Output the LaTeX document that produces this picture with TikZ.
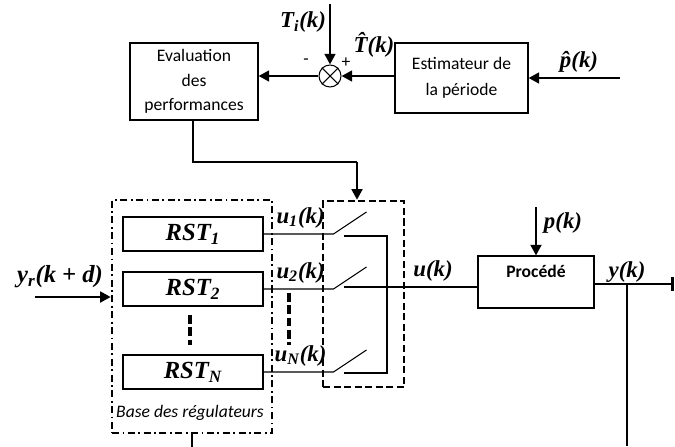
\documentclass[tikz,border=0pt]{standalone}
\usepackage{fontspec}
\setmainfont{Carlito}
\newfontfamily\lblfont{Liberation Serif}
\usetikzlibrary{arrows.meta}
\newcommand{\sig}[1]{{\lblfont\bfseries\itshape #1}}

\begin{document}
\begin{tikzpicture}[x=0.02cm,y=-0.02cm,
  blockbox/.style={draw,line width=0.6pt,minimum width=#1,inner sep=2pt,align=center,font=\fontsize{10}{14}\selectfont},
  blockbox/.default=2.8cm,
  sigarrow/.style={line width=1.6pt,-{Triangle[length=6pt,width=6pt]}},
  siglabel/.style={inner sep=1pt,font=\fontsize{13}{13}\selectfont},
  vdots/.style={line width=1.8pt,dash pattern=on 5pt off 2pt}]
  \useasboundingbox (0,0) rectangle (675,446);

  % upper loop
  \node[blockbox=2.56cm,minimum height=1.54cm] (eval) at (194,81.5) {Evaluation\\des\\performances};
  \node[blockbox=2.66cm,minimum height=1.4cm,font=\fontsize{10}{15}\selectfont] (estim) at (461.5,78) {Estimateur de\\la période};
  \node[draw,circle,line width=0.6pt,minimum size=0.44cm,inner sep=0pt] (sum) at (330,76) {};
  \draw[line width=0.6pt] (sum.north west) -- (sum.south east) (sum.north east) -- (sum.south west);
  \node (minus) at (306,62) {-};
  \node (plus) at (346,63) {+};
  \coordinate (ti) at (330,4);
  \draw[sigarrow] (ti) -- (sum.north);
  \node[siglabel] (tilbl) at (303,22) {\sig{T\textsubscript{i}(k)}};
  \draw[sigarrow] (sum.west) -- (eval.east |- sum.west);
  \draw[sigarrow] (estim.west |- sum.east) -- (sum.east);
  \node[siglabel] (thatlbl) at (374,45) {\sig{\^{T}(k)}};
  \coordinate (pin) at (620,78);
  \draw[sigarrow] (pin) -- (estim.east |- pin);
  \node[siglabel] (phatlbl) at (579,62) {\sig{\^{p}(k)}};

  % regulator bank
  \node[draw,line width=1.4pt,dash pattern=on 4pt off 2pt on 1pt off 2pt,minimum width=3.2cm,minimum height=4.66cm] (base) at (192,316.5) {};
  \node[font=\fontsize{10}{12}\selectfont\itshape] (baselbl) at (190,413) {Base des régulateurs};
  \draw[line width=0.6pt] (base.south) -- ++(0,13);
  \coordinate (yrin) at (35,297);
  \draw[sigarrow] (yrin) -- (yrin -| base.west);
  \node[siglabel,font=\fontsize{14}{14}\selectfont] (yrlbl) at (60,277) {\sig{y\textsubscript{r}(k + d)}};

  \node[draw,line width=1.4pt,dash pattern=on 4pt off 2pt,minimum width=1.62cm,minimum height=3.72cm] (switch) at (363.5,294) {};
  \foreach \i/\y in {1/234, 2/289, N/372} {
    \node[blockbox,minimum height=0.68cm] (rst\i) at (193,\y) {\fontsize{14}{14}\selectfont\sig{RST\textsubscript{\i}}};
    \draw[line width=0.6pt] (rst\i.east) -- ++(70,0) node[siglabel,pos=0.53,above=2pt] (ulbl\i) {\sig{u\textsubscript{\i}(k)}}
      coordinate (piv\i) -- ++(33,-22);
  }
  \coordinate (dr1) at (190,315);
  \coordinate (dr2) at (190,345);
  \draw[vdots] (dr1) -- (dr2);
  \coordinate (dl1) at (289,293);
  \coordinate (dl2) at (289,345);
  \draw[vdots] (dl1) -- (dl2);

  % switch contacts
  \coordinate (c1) at (344,236);
  \coordinate (cN) at (344,373);
  \coordinate (bus) at (387,236);
  \draw[line width=0.6pt] (c1) -- (bus) -- (bus |- cN) -- (cN);
  \coordinate (ucon) at (344,287);

  % process
  \node[blockbox=2.32cm,minimum height=1.04cm,font=\fontsize{10}{12}\selectfont\bfseries,text depth=12pt] (proc) at (536,282) {Procédé};
  \draw[line width=0.6pt] (ucon) -- (ucon -| proc.west);
  \node[siglabel] (ulbl) at (433,271) {\sig{u(k)}};
  \coordinate (pk) at (536,207);
  \draw[sigarrow] (pk) -- (proc.north);
  \node[siglabel] (pklbl) at (563,223) {\sig{p(k)}};
  \coordinate (yout) at (674,284);
  \draw[line width=1.6pt,-{Bar[width=8pt]}] (proc.east |- yout) -- (yout);
  \node[siglabel] (ylbl) at (627,272) {\sig{y(k)}};
  \coordinate (ytap) at (627,284);
  \coordinate (ybot) at (627,446);
  \draw[line width=0.6pt] (ytap) -- (ybot);

  % feedback to switch
  \coordinate (corner) at (357,162);
  \draw[line width=0.6pt] (eval.south -| 193,0) |- (corner);
  \draw[sigarrow] (corner) -- (corner |- switch.north);
\end{tikzpicture}
\end{document}
